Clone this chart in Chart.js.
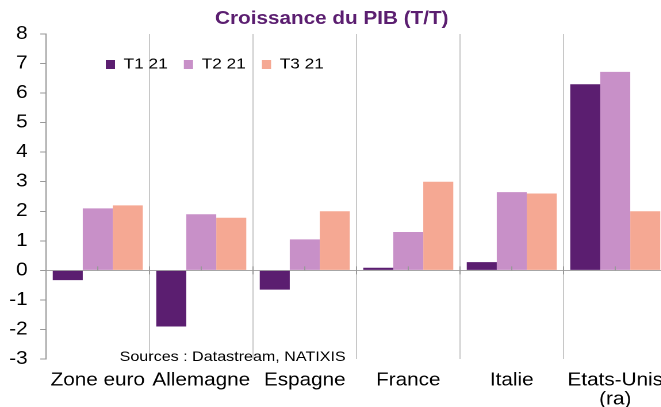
<!DOCTYPE html>
<html><head><meta charset="utf-8">
<script src="https://cdn.jsdelivr.net/npm/chart.js@4.4.1/dist/chart.umd.min.js"></script>
<style>
html,body{margin:0;padding:0;background:#fff;overflow:hidden;width:661px;height:407px;}
#c{transform:scaleX(1.15);transform-origin:0 0;display:block;}
</style></head><body>
<canvas id="c" width="582" height="407"></canvas>
<script>
const categories = ['Zone euro', 'Allemagne', 'Espagne', 'France', 'Italie', ['Etats-Unis', '(ra)']];
const seriesNames = ['T1 21', 'T2 21', 'T3 21'];
const t1 = [-0.33, -1.9, -0.65, 0.09, 0.28, 6.3];
const t2 = [2.1, 1.9, 1.05, 1.3, 2.65, 6.72];
const t3 = [2.2, 1.78, 2.0, 3.0, 2.6, 2.0];
const yMin = -3, yMax = 8, yStep = 1;
const titleText = 'Croissance du PIB (T/T)';
const sourceText = 'Sources : Datastream, NATIXIS';

const colors = ['#5b1e70', '#c890c8', '#f5a893'];
Chart.defaults.font.family = "'Liberation Sans', Arial, sans-serif";
Chart.defaults.color = '#000';

const placeLegend = {
  id: 'placeLegend',
  beforeLayout(chart) {
    if (chart.legend) chart.legend.isHorizontal = () => true;
  },
  afterLayout(chart) {
    const lg = chart.legend, ca = chart.chartArea;
    const w = lg.width, h = lg.height;
    lg.left = ca.left + 38; lg.right = lg.left + w;
    lg.top = ca.top + 9; lg.bottom = lg.top + h;
  }
};
const extras = {
  id: 'extras',
  afterDatasetsDraw(chart) {
    const ctx = chart.ctx, x = chart.scales.x, y = chart.scales.y, ca = chart.chartArea;
    const y0 = y.getPixelForValue(0);
    const half = (x.getPixelForValue(1) - x.getPixelForValue(0)) / 2;
    ctx.save();
    ctx.strokeStyle = '#999'; ctx.lineWidth = 1;
    categories.forEach((c, i) => {
      const xc = x.getPixelForValue(i);
      ctx.beginPath(); ctx.moveTo(xc, y0 - 4); ctx.lineTo(xc, y0); ctx.stroke();
      ctx.beginPath(); ctx.moveTo(xc - half, y0 - 4); ctx.lineTo(xc - half, y0 + 4); ctx.stroke();
    });
    ctx.fillStyle = '#000';
    ctx.font = "14px 'Liberation Sans', Arial, sans-serif";
    ctx.textAlign = 'left'; ctx.textBaseline = 'alphabetic';
    ctx.fillText(sourceText, ca.left + 64, ca.bottom + 2);
    ctx.restore();
  }
};

new Chart(document.getElementById('c'), {
  type: 'bar',
  data: {
    labels: categories,
    datasets: [
      { label: seriesNames[0], data: t1, backgroundColor: colors[0] },
      { label: seriesNames[1], data: t2, backgroundColor: colors[1] },
      { label: seriesNames[2], data: t3, backgroundColor: colors[2] }
    ]
  },
  options: {
    responsive: false,
    animation: false,
    devicePixelRatio: 2,
    categoryPercentage: 0.87,
    barPercentage: 1.0,
    layout: { padding: { left: -3, right: 2, top: 0, bottom: 0 } },
    plugins: {
      title: { display: true, text: titleText, color: '#5b1e70', font: { size: 18, weight: 'bold' }, padding: { top: 8, bottom: 4.4 } },
      legend: {
        position: 'chartArea', align: 'start',
        labels: { boxWidth: 8, boxHeight: 9, padding: 14, color: '#000', font: { size: 15 } }
      },
      tooltip: { enabled: false }
    },
    scales: {
      x: {
        grid: { color: '#c8c8c8', drawTicks: true, tickLength: 12, tickColor: 'rgba(0,0,0,0)', offset: true },
        border: { display: false },
        ticks: { autoSkip: false, maxRotation: 0, padding: 0, font: { size: 18, lineHeight: 1.05 }, color: '#000' },
        afterFit(s) { s.height = 48; }
      },
      y: {
        min: yMin, max: yMax,
        ticks: { stepSize: yStep, padding: 11, font: { size: 18 }, color: '#000' },
        grid: { color: c => c.tick && c.tick.value === 0 ? '#a6a6a6' : 'rgba(0,0,0,0)', tickColor: '#999', tickLength: 5 },
        border: { display: true, color: '#999' }
      }
    }
  },
  plugins: [placeLegend, extras]
});
</script>
</body></html>
